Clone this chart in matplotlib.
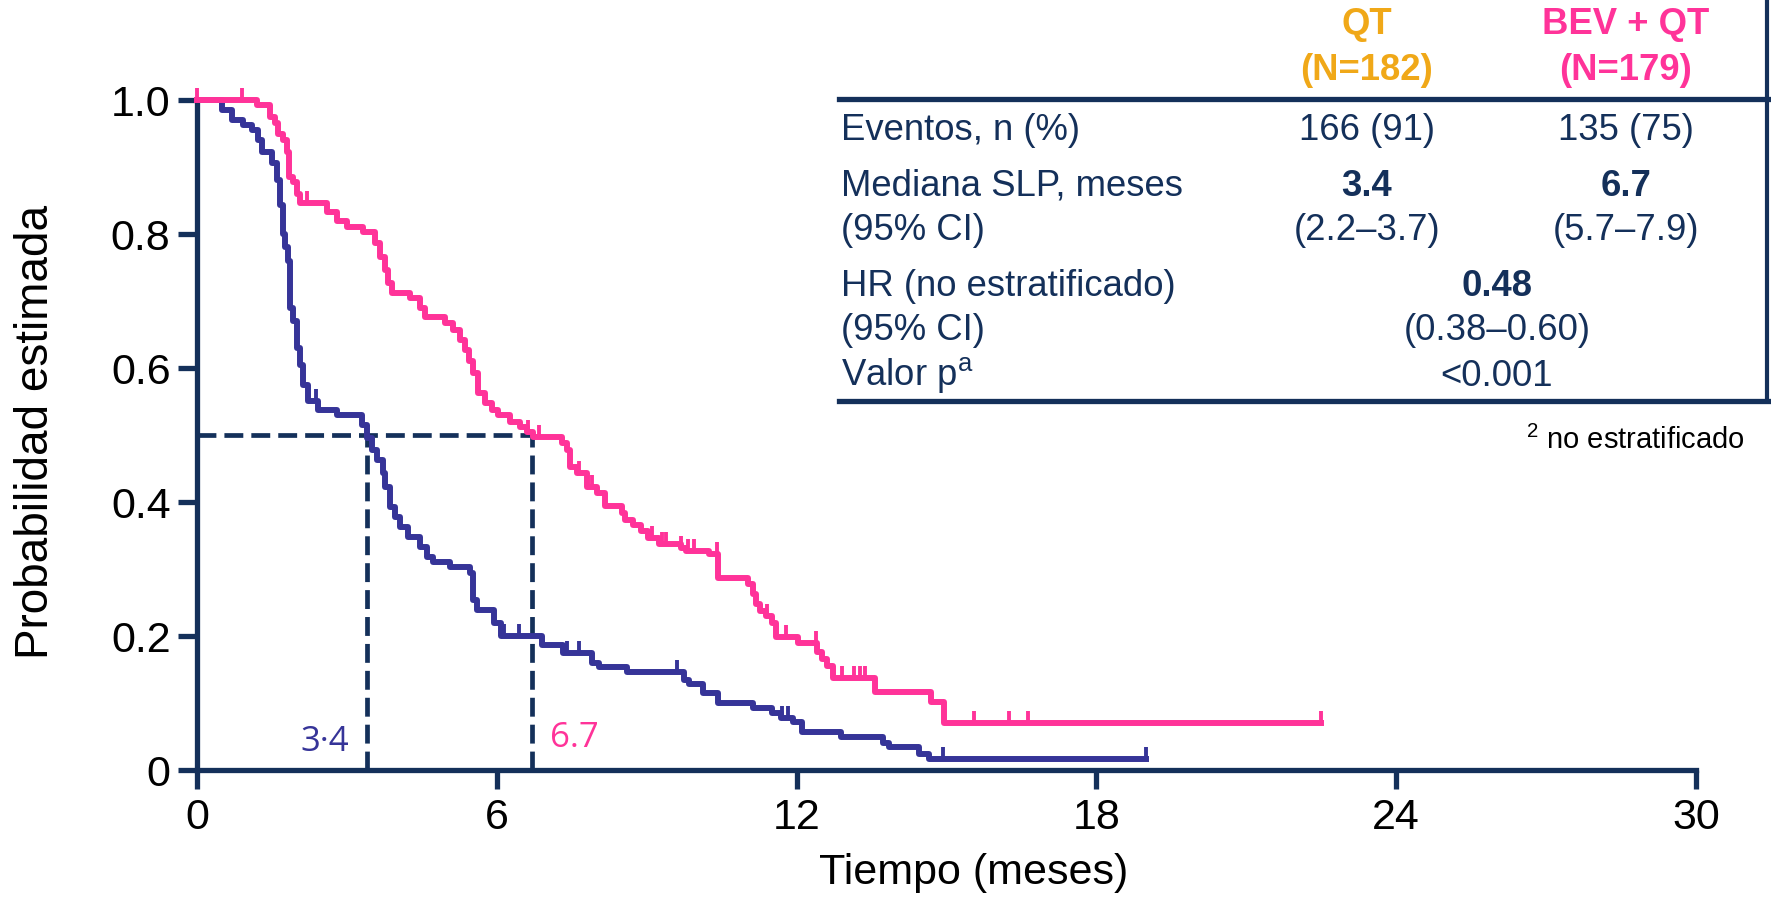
import numpy as np
import matplotlib
matplotlib.use("Agg")
import matplotlib.pyplot as plt
from matplotlib.lines import Line2D

plt.rcParams['font.family'] = ['Liberation Sans', 'DejaVu Sans']
plt.rcParams['mathtext.fontset'] = 'custom'
plt.rcParams['mathtext.rm'] = 'Liberation Sans'

# curva QT (meses, probabilidad tras cada evento)
qt_t = [0, 0.5, 0.7, 0.92, 1.1, 1.22, 1.3, 1.5, 1.6, 1.66, 1.72, 1.76, 1.82, 1.86, 1.92,
        2.0, 2.06, 2.12, 2.22, 2.42, 2.8, 3.3, 3.4, 3.5, 3.6, 3.73, 3.77, 3.87, 3.97, 4.07,
        4.23, 4.47, 4.6, 4.73, 5.07, 5.47, 5.53, 5.6, 5.95, 6.08, 6.9, 7.33, 7.9, 8.05,
        8.6, 9.75, 9.85, 10.12, 10.42, 11.12, 11.5, 11.69, 11.92, 12.1, 12.88, 13.73,
        13.84, 14.45, 14.65]
qt_s = [1.0, 0.985, 0.97, 0.963, 0.955, 0.94, 0.922, 0.906, 0.88, 0.843, 0.80, 0.78, 0.76,
        0.69, 0.67, 0.63, 0.605, 0.575, 0.55, 0.537, 0.53, 0.515, 0.495, 0.478, 0.463,
        0.443, 0.422, 0.393, 0.378, 0.363, 0.348, 0.333, 0.318, 0.31, 0.303, 0.294, 0.254,
        0.239, 0.219, 0.2, 0.187, 0.175, 0.16, 0.153, 0.146, 0.135, 0.128, 0.115, 0.10,
        0.093, 0.085, 0.078, 0.072, 0.057, 0.05, 0.04, 0.034, 0.024, 0.017]
qt_end = 19.0
qt_cens = [2.38, 6.15, 6.45, 7.4, 7.65, 9.6, 11.71, 11.82, 14.93, 19.0]

# curva BEV + QT
bev_t = [0, 1.2, 1.46, 1.56, 1.62, 1.72, 1.8, 1.85, 1.92, 2.0, 2.06, 2.6, 2.8, 3.0, 3.33,
         3.57, 3.67, 3.77, 3.83, 3.9, 4.27, 4.47, 4.57, 4.97, 5.13, 5.27, 5.37, 5.45, 5.53,
         5.63, 5.77, 5.9, 6.03, 6.27, 6.47, 6.6, 6.73, 7.31, 7.4, 7.47, 7.6, 7.8, 8.0, 8.16,
         8.5, 8.56, 8.73, 8.88, 9.02, 9.24, 9.68, 9.78, 10.25, 10.42, 11.03, 11.12, 11.19,
         11.27, 11.38, 11.51, 11.58, 12.02, 12.4, 12.5, 12.6, 12.72, 13.56, 14.69, 14.95]
bev_s = [1.0, 0.993, 0.975, 0.966, 0.95, 0.94, 0.922, 0.885, 0.878, 0.86, 0.846, 0.833,
         0.82, 0.81, 0.803, 0.787, 0.766, 0.746, 0.727, 0.712, 0.704, 0.69, 0.676, 0.667,
         0.657, 0.642, 0.627, 0.61, 0.593, 0.563, 0.548, 0.537, 0.53, 0.52, 0.512, 0.505,
         0.497, 0.488, 0.478, 0.452, 0.443, 0.422, 0.413, 0.394, 0.384, 0.373, 0.366,
         0.356, 0.347, 0.338, 0.331, 0.327, 0.322, 0.286, 0.278, 0.262, 0.248, 0.238,
         0.23, 0.219, 0.198, 0.19, 0.176, 0.165, 0.155, 0.137, 0.116, 0.101, 0.07]
bev_end = 22.5
bev_cens = [0.0, 0.9, 2.2, 6.63, 6.85, 7.65, 7.9, 9.1, 9.3, 9.38, 9.68, 9.82, 9.94, 10.4,
            11.4, 11.78, 12.38, 12.9, 13.15, 13.26, 13.37, 15.55, 16.25, 16.63, 22.5]

qt_median = 3.4
bev_median = 6.7

x_ticks = [0, 6, 12, 18, 24, 30]
y_ticks = [0, 0.2, 0.4, 0.6, 0.8, 1.0]
y_labels = ['0', '0.2', '0.4', '0.6', '0.8', '1.0']

NAVY = '#14305A'
BLUE = '#363498'
PINK = '#FF3399'
ORANGE = '#F0A818'

W, H = 1771, 899


def px(x, y):
    return x / W, 1 - y / H


def draw_km(ax, t, s, end, cens, color):
    tt = list(t) + [end]
    ss = list(s) + [s[-1]]
    ax.plot(tt, ss, drawstyle='steps-post', color=color, lw=4.3, clip_on=False, zorder=4)
    idx = np.searchsorted(t, cens, side='right') - 1
    ax.plot(cens, np.array(s)[idx], ls='none', marker=[(0, 0), (0, 1)], ms=17,
            mew=2.8, mec=color, clip_on=False, zorder=4)


fig = plt.figure(figsize=(W / 100, H / 100), dpi=100)
ax = fig.add_axes([197 / W, 1 - 770 / H, 1499 / W, 670 / H])

# lineas de mediana
dash = (0, (4.0, 1.7))
ax.plot([0, bev_median], [0.5, 0.5], color=NAVY, lw=3.4, ls=dash, zorder=2)
ax.plot([qt_median, qt_median], [0, 0.5], color=NAVY, lw=3.4, ls=dash, zorder=2)
ax.plot([bev_median, bev_median], [0, 0.5], color=NAVY, lw=3.4, ls=dash, zorder=2)

draw_km(ax, qt_t, qt_s, qt_end, qt_cens, BLUE)
draw_km(ax, bev_t, bev_s, bev_end, bev_cens, PINK)

ax.text(2.55, 0.042, '3·4', color=BLUE, fontsize=25, ha='center', va='center',
        family=['Open Sans', 'DejaVu Sans'])
ax.text(7.55, 0.048, '6.7', color=PINK, fontsize=25, ha='center', va='center',
        family=['Open Sans', 'DejaVu Sans'])

ax.set_xlim(0, 30)
ax.set_ylim(0, 1.0)
ax.set_xticks(x_ticks)
ax.set_yticks(y_ticks)
ax.set_yticklabels(y_labels)
for side in ['top', 'right']:
    ax.spines[side].set_visible(False)
for side in ['left', 'bottom']:
    ax.spines[side].set_color(NAVY)
    ax.spines[side].set_linewidth(3.8)
ax.tick_params(axis='both', colors=NAVY, length=14, width=3.8, labelsize=31,
               labelcolor='black')
ax.tick_params(axis='x', pad=6)
ax.tick_params(axis='y', pad=5)

fig.text(*px(974, 873), 'Tiempo (meses)', fontsize=31, ha='center', va='center')
fig.text(*px(36, 432), 'Probabilidad estimada', fontsize=33, ha='center', va='center',
         rotation=90)

# tabla
c1, c2, cm, xl = 1367, 1626, 1497, 841
fs = 26.3
fig.text(*px(c1, 25), 'QT', color=ORANGE, fontsize=fs, weight='bold', ha='center', va='center')
fig.text(*px(c1, 71), '(N=182)', color=ORANGE, fontsize=fs, weight='bold', ha='center', va='center')
fig.text(*px(c2, 25), 'BEV + QT', color=PINK, fontsize=fs, weight='bold', ha='center', va='center')
fig.text(*px(c2, 71), '(N=179)', color=PINK, fontsize=fs, weight='bold', ha='center', va='center')

rows = [(131, 'Eventos, n (%)'), (186, 'Mediana SLP, meses'), (231, '(95% CI)'),
        (286, 'HR (no estratificado)'), (331, '(95% CI)'), (376, r'Valor p$^{\mathrm{a}}$')]
for y, lab in rows:
    fig.text(*px(xl, y), lab, color=NAVY, fontsize=fs, ha='left', va='center')

fig.text(*px(c1, 131), '166 (91)', color=NAVY, fontsize=fs, ha='center', va='center')
fig.text(*px(c2, 131), '135 (75)', color=NAVY, fontsize=fs, ha='center', va='center')
fig.text(*px(c1, 186), '3.4', color=NAVY, fontsize=fs, weight='bold', ha='center', va='center')
fig.text(*px(c2, 186), '6.7', color=NAVY, fontsize=fs, weight='bold', ha='center', va='center')
fig.text(*px(c1, 231), '(2.2–3.7)', color=NAVY, fontsize=fs, ha='center', va='center')
fig.text(*px(c2, 231), '(5.7–7.9)', color=NAVY, fontsize=fs, ha='center', va='center')
fig.text(*px(cm, 286), '0.48', color=NAVY, fontsize=fs, weight='bold', ha='center', va='center')
fig.text(*px(cm, 331), '(0.38–0.60)', color=NAVY, fontsize=fs, ha='center', va='center')
fig.text(*px(cm, 376), '<0.001', color=NAVY, fontsize=fs, ha='center', va='center')

fig.text(*px(1745, 440), r'$^{2}$ no estratificado', fontsize=21, ha='right', va='center')

for y in [99, 401]:
    x0, y0 = px(839, y)
    fig.add_artist(Line2D([x0, 1.0], [y0, y0], color=NAVY, lw=3.8, transform=fig.transFigure))
xv, yv0 = px(1767, 0)
_, yv1 = px(1767, 401)
fig.add_artist(Line2D([xv, xv], [yv0, yv1], color=NAVY, lw=3.0, transform=fig.transFigure))

fig.savefig('out.png', dpi=100)
